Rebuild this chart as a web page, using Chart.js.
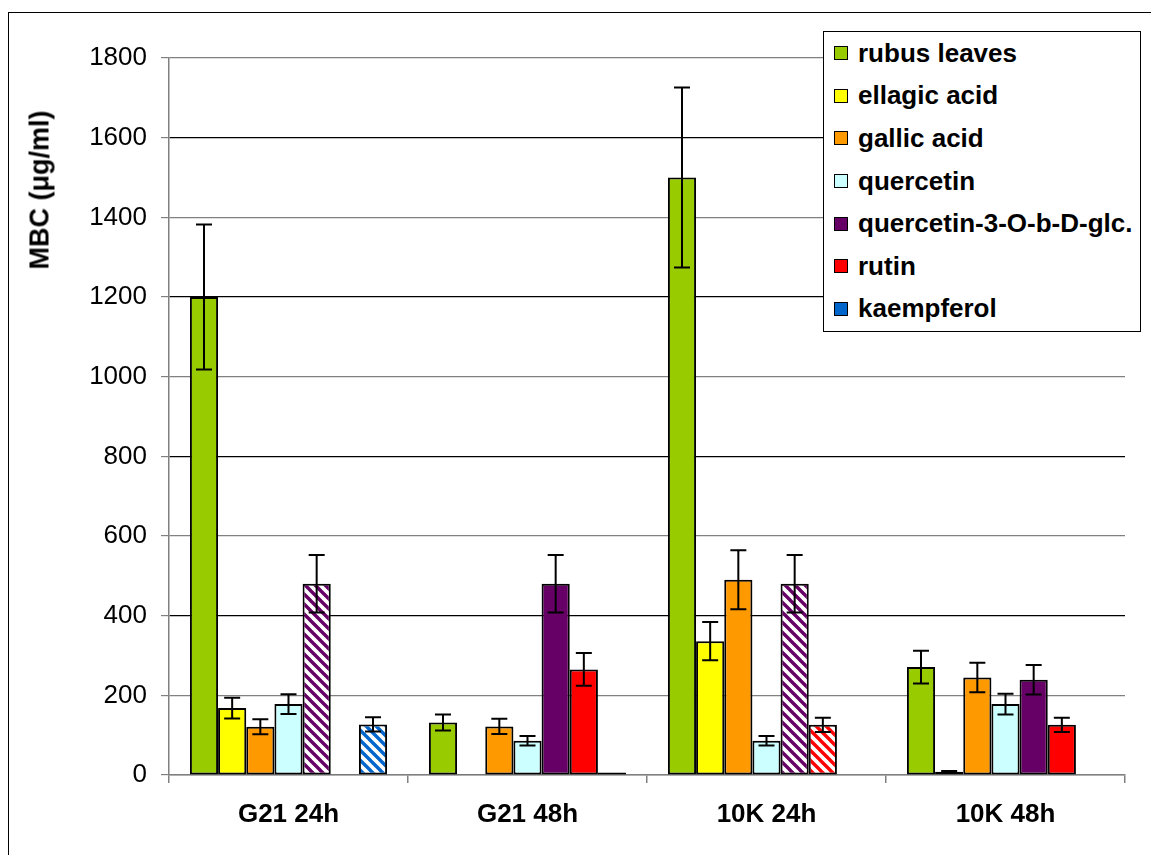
<!DOCTYPE html>
<html>
<head>
<meta charset="utf-8">
<script src="https://cdn.jsdelivr.net/npm/chart.js@4/dist/chart.umd.min.js"></script>
<style>
  html, body { margin: 0; padding: 0; background: #fff; overflow: hidden; }
  #wrap { position: relative; width: 1151px; height: 855px; }
  #frame { position: absolute; left: 8px; top: 12px; width: 1200px; height: 900px;
           border-left: 1.5px solid #000; border-top: 1.5px solid #000; box-sizing: border-box; }
  canvas { position: absolute; left: 0; top: 0; }
  #ytitle { position: absolute; left: 40px; top: 190px; transform: translate(-50%, -50%) rotate(-90deg);
            font: bold 27px "Liberation Sans", Arial, sans-serif; white-space: nowrap; color: #000; }
  #legend { position: absolute; left: 823px; top: 31px; width: 318px; height: 301px; box-sizing: border-box;
            border: 1px solid #000; background: #fff; z-index: 5; }
  .row { height: 42.6px; display: flex; align-items: center; padding-left: 10px;
         font: bold 26px "Liberation Sans", Arial, sans-serif; color: #000; white-space: nowrap; }
  .sw { width: 12px; height: 12px; border: 1.5px solid #000; margin-right: 10px; flex: none; }
</style>
</head>
<body>
<div id="wrap">
  <div id="frame"></div>
  <canvas id="c" width="1151" height="855"></canvas>
  <div id="ytitle">MBC (μg/ml)</div>
  <div id="legend"></div>
</div>
<script>
// ---- data ----
const categories = ['G21 24h', 'G21 48h', '10K 24h', '10K 48h'];
const seriesNames = ['rubus leaves', 'ellagic acid', 'gallic acid', 'quercetin', 'quercetin-3-O-b-D-glc.', 'rutin', 'kaempferol'];
const rubusLeaves   = [1200, 132, 1500, 271];
const rubusErr      = [182, 20, 226, 41];
const ellagicAcid   = [168, 2, 336, 8];
const ellagicErr    = [26, 0, 48, 2];
const gallicAcid    = [121, 122, 490, 245];
const gallicErr     = [19, 19, 74, 37];
const quercetin     = [178, 86, 86, 178];
const quercetinErr  = [25, 12, 12, 26];
const quercetinGlc  = [480, 480, 480, 239];
const quercetinGlcErr = [72, 72, 72, 37];
const rutin         = [2, 265, 126, 126];
const rutinErr      = [0, 41, 18, 18];
const kaempferol    = [127, 6, null, null];
const kaempferolErr = [18, 0, 0, 0];
const yTicks = [0, 200, 400, 600, 800, 1000, 1200, 1400, 1600, 1800];

// ---- styles ----
const colors = ['#99CC00', '#FFFF00', '#FF9900', '#CCFFFF', '#660066', '#FF0000', '#0066CC'];
const hatched = [
  [false, false, false, false],
  [false, false, false, false],
  [false, false, false, false],
  [false, false, false, false],
  [true, false, true, false],
  [false, false, true, false],
  [true, false, false, false]
];
const FONT = '"Liberation Sans", Arial, sans-serif';

function makePattern(color) {
  const s = 10;
  const cv = document.createElement('canvas');
  cv.width = s; cv.height = s;
  const g = cv.getContext('2d');
  g.fillStyle = '#fff';
  g.fillRect(0, 0, s, s);
  g.strokeStyle = color;
  g.lineWidth = 3.4;
  g.beginPath();
  for (let k = -1; k <= 1; k++) {
    g.moveTo(k * s - 1, -1);
    g.lineTo(k * s + s + 1, s + 1);
  }
  g.stroke();
  return g.createPattern(cv, 'repeat');
}

const values = [rubusLeaves, ellagicAcid, gallicAcid, quercetin, quercetinGlc, rutin, kaempferol];
const errors = [rubusErr, ellagicErr, gallicErr, quercetinErr, quercetinGlcErr, rutinErr, kaempferolErr];

const datasets = seriesNames.map((name, i) => {
  const pat = makePattern(colors[i]);
  return {
    label: name,
    data: values[i],
    errors: errors[i],
    backgroundColor: hatched[i].map(h => h ? pat : colors[i]),
    borderColor: '#000',
    borderWidth: 2,
    borderSkipped: false,
    categoryPercentage: 0.825,
    barPercentage: 1.0
  };
});

// legend
const leg = document.getElementById('legend');
seriesNames.forEach((n, i) => {
  const r = document.createElement('div');
  r.className = 'row';
  const sw = document.createElement('span');
  sw.className = 'sw';
  sw.style.background = colors[i];
  r.appendChild(sw);
  r.appendChild(document.createTextNode(n));
  leg.appendChild(r);
});

const errorBars = {
  id: 'errorBars',
  afterDatasetsDraw(chart) {
    const ctx = chart.ctx;
    const y = chart.scales.y;
    ctx.save();
    ctx.strokeStyle = '#000';
    ctx.lineWidth = 2;
    chart.data.datasets.forEach((ds, di) => {
      const meta = chart.getDatasetMeta(di);
      meta.data.forEach((el, j) => {
        const v = ds.data[j], e = ds.errors[j];
        if (v == null || !e) return;
        const x = el.x;
        const yt = y.getPixelForValue(v + e);
        const yb = y.getPixelForValue(Math.max(v - e, 0));
        const cw = 8;
        ctx.beginPath();
        ctx.moveTo(x, yt); ctx.lineTo(x, yb);
        ctx.moveTo(x - cw, yt); ctx.lineTo(x + cw, yt);
        ctx.moveTo(x - cw, yb); ctx.lineTo(x + cw, yb);
        ctx.stroke();
      });
    });
    ctx.restore();
  }
};

new Chart(document.getElementById('c'), {
  type: 'bar',
  data: { labels: categories, datasets },
  options: {
    responsive: false,
    animation: false,
    devicePixelRatio: 1,
    layout: { padding: { left: 0, right: 26, top: 58, bottom: 0 } },
    plugins: { legend: { display: false }, tooltip: { enabled: false } },
    scales: {
      x: {
        grid: { offset: true, drawOnChartArea: false, drawTicks: true, tickLength: 8, color: '#808080', lineWidth: 1.5 },
        border: { color: '#808080', width: 1.5 },
        ticks: { color: '#000', font: { family: FONT, size: 26, weight: 'bold' }, padding: 16, maxRotation: 0 },
        afterFit(scale) { scale.height = 80; }
      },
      y: {
        min: 0, max: 1800,
        afterBuildTicks(scale) { scale.ticks = yTicks.map(v => ({ value: v })); },
        grid: {
          drawTicks: true, tickLength: 8,
          color: ctx => (ctx.tick && ctx.tick.value % 400 === 0 && ctx.tick.value !== 0) ? '#000' : '#808080',
          tickColor: '#808080',
          lineWidth: 1.2
        },
        border: { color: '#808080', width: 1.5 },
        ticks: { color: '#000', font: { family: FONT, size: 26 }, padding: 14, callback: v => String(v) },
        afterFit(scale) { scale.width = 169; }
      }
    }
  },
  plugins: [errorBars]
});
</script>
</body>
</html>
